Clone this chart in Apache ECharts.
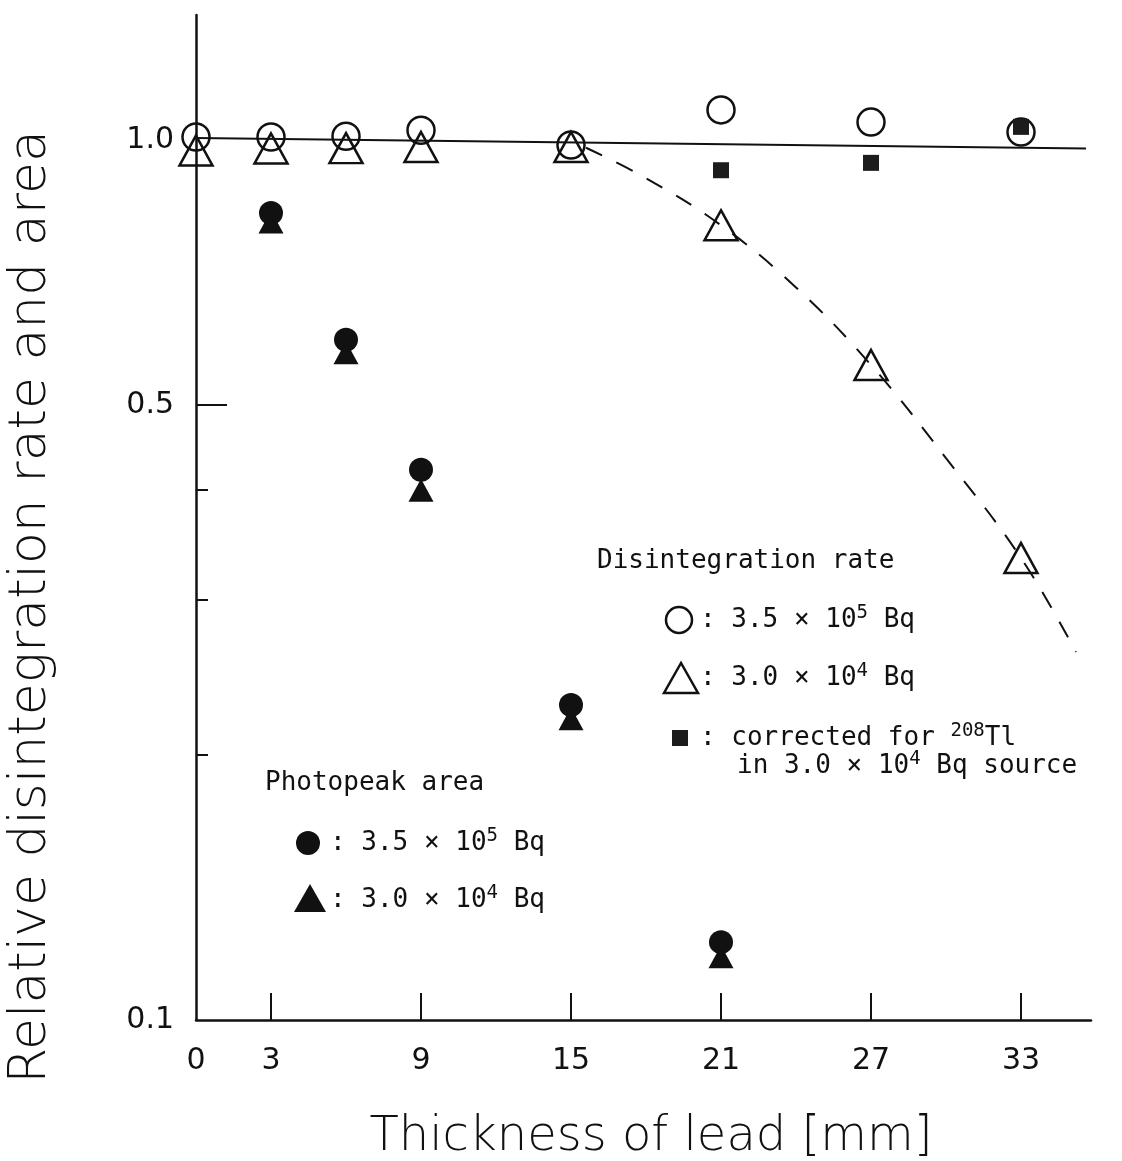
<!DOCTYPE html>
<html>
<head>
<meta charset="utf-8">
<script src="https://cdn.jsdelivr.net/npm/echarts@6/dist/echarts.min.js"></script>
<style>
  html, body { margin: 0; padding: 0; background: #fff; }
  #main { width: 1122px; height: 1161px; }
</style>
</head>
<body>
<div id="main"></div>
<script>
// thickness of lead (mm)
var thickness = [0, 3, 6, 9, 15, 21, 27, 33];
var openCircle = [1.008, 1.008, 1.01, 1.026, 0.987, 1.082, 1.048, 1.021];   // disintegration rate, 3.5e5 Bq
var openTriangle = [0.973, 0.978, 0.979, 0.982, 0.982, 0.80, 0.555, 0.335]; // disintegration rate, 3.0e4 Bq
var squareX = [21, 27, 33];
var squareY = [0.924, 0.942, 1.035];                                         // corrected for 208Tl
var peakX = [3, 6, 9, 15, 21];
var peakCircle = [0.826, 0.593, 0.422, 0.228, 0.1226];                      // photopeak area, 3.5e5 Bq
var peakTriangle = [0.807, 0.573, 0.40, 0.22, 0.118];                        // photopeak area, 3.0e4 Bq
var solidX = [0, 35.6];
var solidY = [1.005, 0.978];
var dashX = [15.6, 18, 21, 24, 27, 30, 33, 35.2];
var dashY = [0.98, 0.905, 0.80, 0.68, 0.555, 0.435, 0.335, 0.262];

var xTicks = [3, 9, 15, 21, 27, 33];
var xLabels = [0, 3, 9, 15, 21, 27, 33];
var yLabels = [0.1, 0.5, 1.0];
var yMinorTicks = [0.2, 0.3, 0.4];
var yMajorTicks = [0.5];

function pairs(xs, ys) {
  return xs.map(function (x, i) { return [x, ys[i]]; });
}

var INK = '#111';
var FONT = '"DejaVu Sans", sans-serif';
var LFONT = '"DejaVu Sans Mono", monospace';

var chart = echarts.init(document.getElementById('main'));

function legendText(x, y, rich) {
  return {
    type: 'text', left: x, top: y,
    style: {
      text: rich,
      font: '26px ' + LFONT,
      fill: INK,
      rich: {
        a: { fontSize: 26, fontFamily: LFONT, lineHeight: 32, fill: INK },
        s: { fontSize: 19, fontFamily: LFONT, verticalAlign: 'top', fill: INK }
      }
    }
  };
}

var option = {
  backgroundColor: '#fff',
  animation: false,
  grid: { left: 196, right: 31, top: 15, bottom: 141 },
  xAxis: {
    type: 'value', min: 0, max: 35.8,
    axisLine: { lineStyle: { color: INK, width: 2.5 } },
    axisTick: { customValues: xTicks, inside: true, length: 27, lineStyle: { color: INK, width: 2 } },
    axisLabel: {
      customValues: xLabels, color: INK, fontSize: 30, fontFamily: FONT, margin: 26
    },
    splitLine: { show: false }
  },
  yAxis: [{
    type: 'log', logBase: 10, min: 0.1, max: 1.387,
    axisLine: { lineStyle: { color: INK, width: 2.5 } },
    axisTick: { customValues: yMinorTicks, inside: true, length: 12, lineStyle: { color: INK, width: 2 } },
    axisLabel: {
      customValues: yLabels, color: INK, fontSize: 30, fontFamily: FONT, margin: 22,
      formatter: function (v) { return Number(v).toFixed(1); }
    },
    splitLine: { show: false }
  }, {
    type: 'log', logBase: 10, min: 0.1, max: 1.387, position: 'left',
    axisLine: { show: false },
    axisTick: { customValues: yMajorTicks, inside: true, length: 31, lineStyle: { color: INK, width: 2 } },
    axisLabel: { show: false },
    splitLine: { show: false }
  }],
  series: [{
    type: 'line', data: pairs(solidX, solidY), symbol: 'none',
    lineStyle: { color: INK, width: 2 }, z: 1
  }, {
    type: 'line', data: pairs(dashX, dashY), symbol: 'none', smooth: 0.4,
    lineStyle: { color: INK, width: 2, type: [18, 16] }, z: 1
  }, {
    type: 'scatter', data: pairs(thickness, openCircle), symbol: 'circle', symbolSize: 27,
    itemStyle: { color: 'rgba(0,0,0,0)', borderColor: INK, borderWidth: 2.5, opacity: 1 }, z: 3
  }, {
    type: 'scatter', data: pairs(thickness, openTriangle), symbol: 'triangle', symbolSize: [33, 30],
    itemStyle: { color: 'rgba(0,0,0,0)', borderColor: INK, borderWidth: 2.5, opacity: 1 }, z: 3
  }, {
    type: 'scatter', data: pairs(squareX, squareY), symbol: 'rect', symbolSize: 16,
    itemStyle: { color: '#1c1c1c', opacity: 1 }, z: 4
  }, {
    type: 'scatter', data: pairs(peakX, peakTriangle), symbol: 'triangle', symbolSize: [25, 23],
    itemStyle: { color: INK, opacity: 1 }, z: 3
  }, {
    type: 'scatter', data: pairs(peakX, peakCircle), symbol: 'circle', symbolSize: 24,
    itemStyle: { color: INK, opacity: 1 }, z: 3
  }],
  graphic: [
    // axis titles
    {
      type: 'text', x: 651, y: 1138,
      style: { text: 'Thickness of lead [mm]', font: '300 48px ' + FONT, fill: INK, align: 'center', verticalAlign: 'middle' }
    },
    {
      type: 'text', x: 31, y: 607, rotation: Math.PI / 2,
      style: { text: 'Relative disintegration rate and area', font: '300 52px ' + FONT, fill: INK, align: 'center', verticalAlign: 'middle' }
    },
    // legend: disintegration rate
    { type: 'text', left: 597, top: 548, style: { text: 'Disintegration rate', font: '26px ' + LFONT, fill: INK } },
    { type: 'circle', shape: { cx: 679, cy: 620, r: 13 }, style: { fill: 'none', stroke: INK, lineWidth: 2.5 } },
    legendText(700, 604, '{a|: 3.5 × 10}{s|5}{a| Bq}'),
    { type: 'polygon', shape: { points: [[681, 663], [664, 693], [698, 693]] }, style: { fill: 'none', stroke: INK, lineWidth: 2.5 } },
    legendText(700, 662, '{a|: 3.0 × 10}{s|4}{a| Bq}'),
    { type: 'rect', shape: { x: 672, y: 730, width: 16, height: 16 }, style: { fill: '#1c1c1c' } },
    legendText(700, 722, '{a|: corrected for }{s|208}{a|Tl}'),
    legendText(737, 750, '{a|in 3.0 × 10}{s|4}{a| Bq source}'),
    // legend: photopeak area
    { type: 'text', left: 265, top: 770, style: { text: 'Photopeak area', font: '26px ' + LFONT, fill: INK } },
    { type: 'circle', shape: { cx: 308, cy: 843, r: 12 }, style: { fill: INK } },
    legendText(330, 827, '{a|: 3.5 × 10}{s|5}{a| Bq}'),
    { type: 'polygon', shape: { points: [[310, 884], [294, 912], [326, 912]] }, style: { fill: INK } },
    legendText(330, 884, '{a|: 3.0 × 10}{s|4}{a| Bq}')
  ]
};

chart.setOption(option);
</script>
</body>
</html>
